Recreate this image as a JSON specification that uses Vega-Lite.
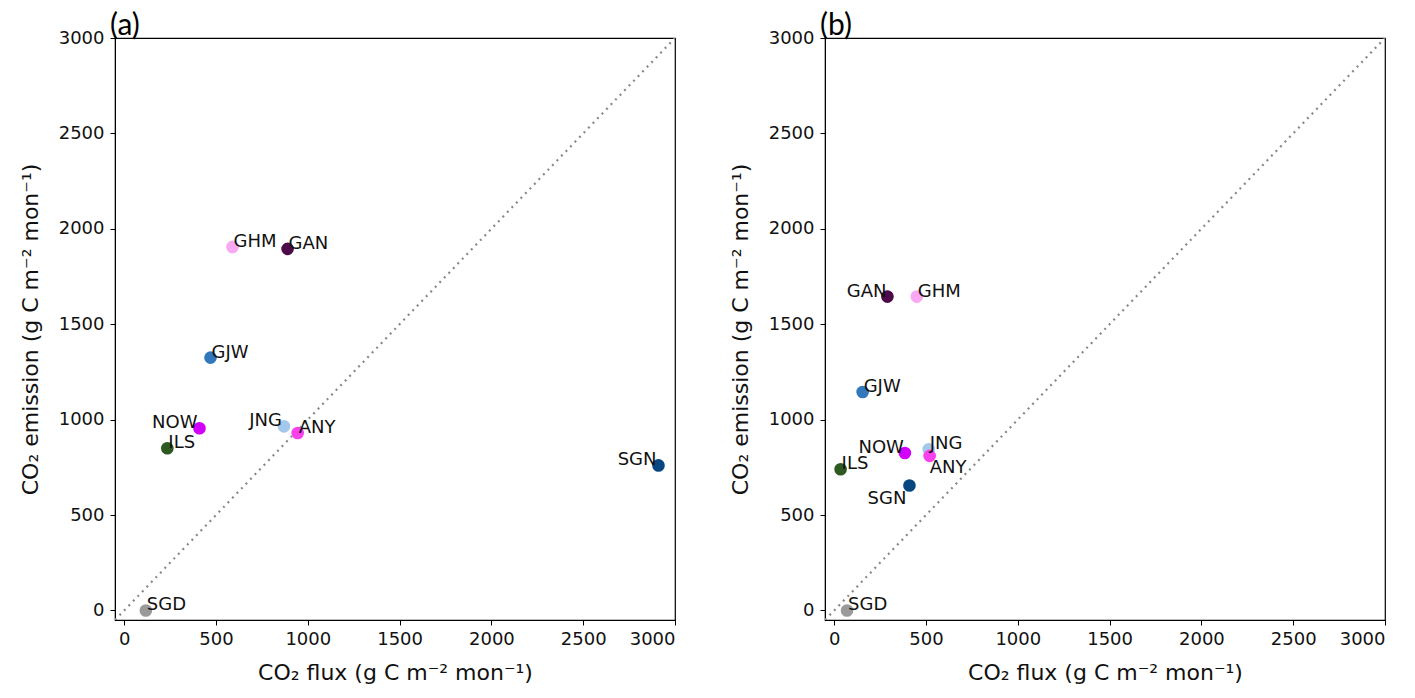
{
  "$schema": "https://vega.github.io/schema/vega-lite/v6.json",
  "padding": {"left": 18, "top": 10, "right": 5, "bottom": 0},
  "background": "white",
  "datasets": {
    "sites": [
      {"panel": "a", "site": "GHM", "flux": 590, "emission": 1905},
      {"panel": "a", "site": "GAN", "flux": 890, "emission": 1895},
      {"panel": "a", "site": "GJW", "flux": 470, "emission": 1325},
      {"panel": "a", "site": "NOW", "flux": 410, "emission": 955},
      {"panel": "a", "site": "ILS", "flux": 235, "emission": 850},
      {"panel": "a", "site": "JNG", "flux": 870, "emission": 965},
      {"panel": "a", "site": "ANY", "flux": 945, "emission": 930},
      {"panel": "a", "site": "SGN", "flux": 2910, "emission": 760},
      {"panel": "a", "site": "SGD", "flux": 118, "emission": 0},
      {"panel": "b", "site": "GAN", "flux": 290, "emission": 1645},
      {"panel": "b", "site": "GHM", "flux": 450, "emission": 1645},
      {"panel": "b", "site": "GJW", "flux": 155, "emission": 1145},
      {"panel": "b", "site": "NOW", "flux": 385, "emission": 825},
      {"panel": "b", "site": "JNG", "flux": 515, "emission": 845},
      {"panel": "b", "site": "ANY", "flux": 520, "emission": 810},
      {"panel": "b", "site": "ILS", "flux": 35, "emission": 740},
      {"panel": "b", "site": "SGN", "flux": 410, "emission": 655},
      {"panel": "b", "site": "SGD", "flux": 70, "emission": 0}
    ],
    "diag": [{"v": -50}, {"v": 3000}]
  },
  "config": {
    "view": {"stroke": "black", "strokeWidth": 1.2},
    "axis": {
      "grid": false,
      "labelFont": "DejaVu Sans",
      "labelFontSize": 18,
      "labelColor": "#111",
      "titleFont": "DejaVu Sans",
      "titleFontSize": 22,
      "titleFontWeight": "normal",
      "titleColor": "#111",
      "domainColor": "black",
      "tickColor": "black",
      "tickSize": 5
    },
    "axisX": {"labelPadding": 5, "titlePadding": 14},
    "axisY": {"labelPadding": 6, "titlePadding": 16},
    "title": {"font": "Lato", "fontSize": 30, "fontWeight": "normal", "anchor": "start", "frame": "group", "color": "black", "baseline": "alphabetic", "offset": -12, "dx": -5},
    "text": {"font": "DejaVu Sans", "fontSize": 18, "color": "#111"},
    "concat": {"spacing": 51}
  },
  "hconcat": [
    {
      "title": "(a)",
      "width": 560,
      "height": 582,
      "layer": [
        {
          "data": {"name": "diag"},
          "mark": {"type": "line", "strokeDash": [2, 4.5], "color": "#888", "strokeWidth": 2.2, "clip": true},
          "encoding": {
            "x": {"field": "v", "type": "quantitative", "scale": {"domain": [-50, 3000], "nice": false, "zero": false}, "title": "CO₂ flux (g C m⁻² mon⁻¹)", "axis": {"values": [0, 500, 1000, 1500, 2000, 2500, 3000], "format": "d"}},
            "y": {"field": "v", "type": "quantitative", "scale": {"domain": [-50, 3000], "nice": false, "zero": false}, "title": "CO₂ emission (g C m⁻² mon⁻¹)", "axis": {"values": [0, 500, 1000, 1500, 2000, 2500, 3000], "format": "d"}}
          }
        },
        {
          "data": {"name": "sites"},
          "transform": [{"filter": "datum.panel == 'a'"}],
          "layer": [
            {
              "mark": {"type": "circle", "size": 160, "opacity": 1},
              "encoding": {
                "x": {"field": "flux", "type": "quantitative"},
                "y": {"field": "emission", "type": "quantitative"},
                "color": {"field": "site", "type": "nominal", "legend": null,
                  "scale": {"domain": ["GHM", "GAN", "GJW", "NOW", "ILS", "JNG", "ANY", "SGN", "SGD"],
                            "range": ["#f9a9f3", "#4d0a4b", "#3378bd", "#d200f8", "#2e5a21", "#a4c7ec", "#f840ec", "#08467f", "#9a9a9a"]}}
              }
            },
            {
              "transform": [{"filter": {"field": "site", "oneOf": ["GHM", "GAN", "GJW", "ILS", "ANY", "SGD"]}}],
              "mark": {"type": "text", "align": "left", "baseline": "alphabetic", "dx": 1, "dy": 0},
              "encoding": {"x": {"field": "flux", "type": "quantitative"}, "y": {"field": "emission", "type": "quantitative"}, "text": {"field": "site"}}
            },
            {
              "transform": [{"filter": {"field": "site", "oneOf": ["NOW", "JNG", "SGN"]}}],
              "mark": {"type": "text", "align": "right", "baseline": "alphabetic", "dx": -2, "dy": 0},
              "encoding": {"x": {"field": "flux", "type": "quantitative"}, "y": {"field": "emission", "type": "quantitative"}, "text": {"field": "site"}}
            }
          ]
        }
      ]
    },
    {
      "title": "(b)",
      "width": 560,
      "height": 582,
      "layer": [
        {
          "data": {"name": "diag"},
          "mark": {"type": "line", "strokeDash": [2, 4.5], "color": "#888", "strokeWidth": 2.2, "clip": true},
          "encoding": {
            "x": {"field": "v", "type": "quantitative", "scale": {"domain": [-50, 3000], "nice": false, "zero": false}, "title": "CO₂ flux (g C m⁻² mon⁻¹)", "axis": {"values": [0, 500, 1000, 1500, 2000, 2500, 3000], "format": "d"}},
            "y": {"field": "v", "type": "quantitative", "scale": {"domain": [-50, 3000], "nice": false, "zero": false}, "title": "CO₂ emission (g C m⁻² mon⁻¹)", "axis": {"values": [0, 500, 1000, 1500, 2000, 2500, 3000], "format": "d"}}
          }
        },
        {
          "data": {"name": "sites"},
          "transform": [{"filter": "datum.panel == 'b'"}],
          "layer": [
            {
              "mark": {"type": "circle", "size": 160, "opacity": 1},
              "encoding": {
                "x": {"field": "flux", "type": "quantitative"},
                "y": {"field": "emission", "type": "quantitative"},
                "color": {"field": "site", "type": "nominal", "legend": null,
                  "scale": {"domain": ["GHM", "GAN", "GJW", "NOW", "ILS", "JNG", "ANY", "SGN", "SGD"],
                            "range": ["#f9a9f3", "#4d0a4b", "#3378bd", "#d200f8", "#2e5a21", "#a4c7ec", "#f840ec", "#08467f", "#9a9a9a"]}}
              }
            },
            {
              "transform": [{"filter": {"field": "site", "oneOf": ["GHM", "GJW", "JNG", "ILS", "SGD"]}}],
              "mark": {"type": "text", "align": "left", "baseline": "alphabetic", "dx": 1, "dy": 0},
              "encoding": {"x": {"field": "flux", "type": "quantitative"}, "y": {"field": "emission", "type": "quantitative"}, "text": {"field": "site"}}
            },
            {
              "transform": [{"filter": {"field": "site", "oneOf": ["GAN", "NOW"]}}],
              "mark": {"type": "text", "align": "right", "baseline": "alphabetic", "dx": -1, "dy": 0},
              "encoding": {"x": {"field": "flux", "type": "quantitative"}, "y": {"field": "emission", "type": "quantitative"}, "text": {"field": "site"}}
            },
            {
              "transform": [{"filter": {"field": "site", "oneOf": ["ANY"]}}],
              "mark": {"type": "text", "align": "left", "baseline": "top", "dx": 0, "dy": 3},
              "encoding": {"x": {"field": "flux", "type": "quantitative"}, "y": {"field": "emission", "type": "quantitative"}, "text": {"field": "site"}}
            },
            {
              "transform": [{"filter": {"field": "site", "oneOf": ["SGN"]}}],
              "mark": {"type": "text", "align": "right", "baseline": "top", "dx": -3, "dy": 5},
              "encoding": {"x": {"field": "flux", "type": "quantitative"}, "y": {"field": "emission", "type": "quantitative"}, "text": {"field": "site"}}
            }
          ]
        }
      ]
    }
  ],
  "resolve": {"scale": {"color": "shared"}}
}
